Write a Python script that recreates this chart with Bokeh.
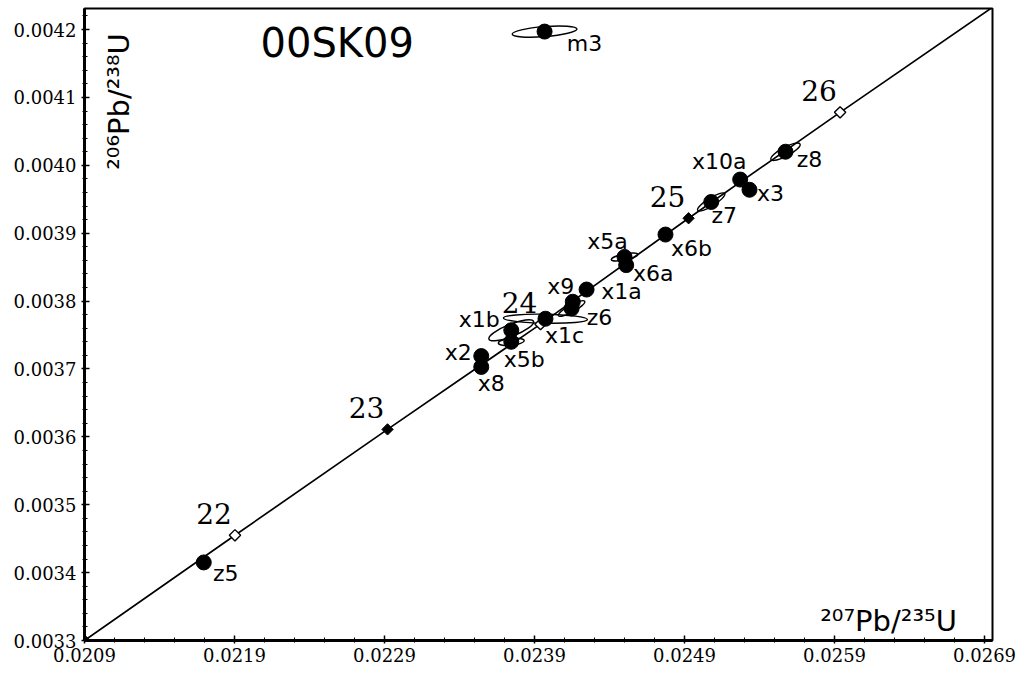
import math
from bokeh.plotting import figure
from bokeh.models import ColumnDataSource, FixedTicker, PrintfTickFormatter, Range1d, Label
from bokeh.core.properties import value
from bokeh.embed import file_html
from bokeh.resources import INLINE

# --- sample name -------------------------------------------------------------
sample = "00SK09"

# --- concordia age ticks (Ma) and their ratio coordinates --------------------
ages = [21, 22, 23, 24, 25, 26, 27]
conc_x = [0.02090, 0.021903, 0.022920, 0.023940, 0.024927, 0.025937, 0.026948]
conc_y = [0.003300, 0.003455, 0.003611, 0.003766, 0.003922, 0.004078, 0.004232]

# --- analyses: 207Pb/235U, 206Pb/238U and error-ellipse geometry -------------
names = ["z5", "m3", "x8", "x2", "x5b", "x1b", "x1c", "z6", "x9",
         "x1a", "x5a", "x6a", "x6b", "z7", "x10a", "x3", "z8"]
pb207_u235 = [0.021695, 0.023967, 0.023545, 0.023545, 0.023745, 0.023745,
              0.023973, 0.024147, 0.024155, 0.024247, 0.024500, 0.024511,
              0.024773, 0.025078, 0.025271, 0.025333, 0.025573]
pb206_u238 = [0.003415, 0.004197, 0.003703, 0.003719, 0.003740, 0.003757,
              0.003774, 0.003789, 0.003799, 0.003817, 0.003865, 0.003853,
              0.003898, 0.003946, 0.003979, 0.003964, 0.004020]
ell_w = [0.000070, 0.000433, 0.000060, 0.000060, 0.000173, 0.000320,
         0.000560, 0.000200, 0.000060, 0.000070, 0.000180, 0.000060,
         0.000060, 0.000213, 0.000060, 0.000060, 0.000220]
ell_h = [0.0000080, 0.0000147, 0.0000080, 0.0000080, 0.0000103, 0.0000177,
         0.0000133, 0.0000103, 0.0000080, 0.0000080, 0.0000088, 0.0000080,
         0.0000080, 0.0000118, 0.0000080, 0.0000080, 0.0000133]
ell_angle = [0.6, 0.08, 0.6, 0.6, 0.10, 0.38, -0.02, 0.50, 0.6, 0.6,
             0.20, 0.6, 0.6, 0.56, 0.6, 0.6, 0.49]

# --- axis ticks ---------------------------------------------------------------
x_ticks = [0.0209, 0.0219, 0.0229, 0.0239, 0.0249, 0.0259, 0.0269]
y_ticks = [0.0033, 0.0034, 0.0035, 0.0036, 0.0037, 0.0038, 0.0039, 0.0040, 0.0041, 0.0042]

# label placement (pixels, relative to each analysis)
label_dx = [22, 40, 10, -23, 13, -32, 19, 28, -12, 35, -17, 27, 26, 13, -21, 21, 24]
label_dy = [11, 12, 17, -4, 18, -11, 17, 9, -15, 2, -15, 8, 14, 14, -18, 4, 8]

x_minor = [round(x_ticks[0] + i * 0.0002, 5) for i in range(31)]
y_minor = [round(y_ticks[0] + i * 0.00002, 6) for i in range(47)]

p = figure(width=1021, height=675, output_backend="svg", toolbar_location=None,
           x_range=Range1d(0.0209, 0.026953), y_range=Range1d(0.0033, 0.004231),
           min_border_left=84, min_border_right=29, min_border_top=8,
           min_border_bottom=35)
p.background_fill_color = "white"
p.border_fill_color = "white"
p.grid.visible = False
p.outline_line_color = "black"
p.outline_line_width = 2

for ax, ticks, minors in ((p.xaxis[0], x_ticks, x_minor), (p.yaxis[0], y_ticks, y_minor)):
    ax.ticker = FixedTicker(ticks=ticks, minor_ticks=minors)
    ax.formatter = PrintfTickFormatter(format="%.4f")
    ax.axis_line_width = 3
    ax.axis_line_color = "black"
    ax.major_tick_in = 5
    ax.major_tick_out = 3
    ax.minor_tick_in = 3
    ax.minor_tick_out = 2
    ax.major_tick_line_width = 1.5
    ax.minor_tick_line_width = 1
    ax.major_label_text_font = "DejaVu Serif"
    ax.major_label_text_font_size = "18px"
    ax.major_label_text_color = "black"
p.xaxis.major_label_standoff = 4
p.yaxis.major_label_standoff = 5

# concordia curve
p.line(conc_x, conc_y, line_color="black", line_width=1.7)

# error ellipses
src = ColumnDataSource(dict(x=pb207_u235, y=pb206_u238, w=ell_w, h=ell_h,
                            a=ell_angle, name=names, dx=label_dx, dy=label_dy))
p.ellipse(x="x", y="y", width="w", height="h", angle="a", source=src,
          fill_color=None, line_color="black", line_width=1.4)

# age markers: odd ages filled, even ages open
filled = [i for i, a in enumerate(ages[:-1]) if a % 2 == 1]
opened = [i for i, a in enumerate(ages[:-1]) if a % 2 == 0]
p.scatter([conc_x[i] for i in filled], [conc_y[i] for i in filled], marker="square",
          angle=math.pi / 4, size=8, fill_color="black", line_color="black", line_width=1)
p.scatter([conc_x[i] for i in opened], [conc_y[i] for i in opened], marker="square",
          angle=math.pi / 4, size=8, fill_color="white", line_color="black", line_width=1.4)

# analyses
p.scatter(x="x", y="y", source=src, size=15, fill_color="black", line_color="black")
p.text(x="x", y="y", text="name", x_offset="dx", y_offset="dy", source=src,
       text_font=value("DejaVu Sans"), text_font_size="22px", text_color="black",
       text_align="center", text_baseline="middle")

# age labels
p.text(x=conc_x[1:-1], y=conc_y[1:-1], text=[str(a) for a in ages[1:-1]],
       x_offset=-21, y_offset=-22, text_font=value("DejaVu Serif"),
       text_font_size="28px", text_color="black", text_align="center",
       text_baseline="middle")

# sample name and axis titles
p.add_layout(Label(x=0.022585, y=0.00418, text=sample, text_font="DejaVu Sans",
                   text_font_size="40px", text_color="black", text_align="center",
                   text_baseline="alphabetic"))
p.add_layout(Label(x=0.02626, y=0.003328, text="²⁰⁷Pb/²³⁵U", text_font="DejaVu Sans",
                   text_font_size="29px", text_color="black", text_align="center",
                   text_baseline="alphabetic"))
p.add_layout(Label(x=0.021127, y=0.004094, text="²⁰⁶Pb/²³⁸U", text_font="DejaVu Sans",
                   text_font_size="29px", text_color="black", text_align="center",
                   text_baseline="middle", angle=1.5708))

open("out.html", "w").write(file_html(p, INLINE))
